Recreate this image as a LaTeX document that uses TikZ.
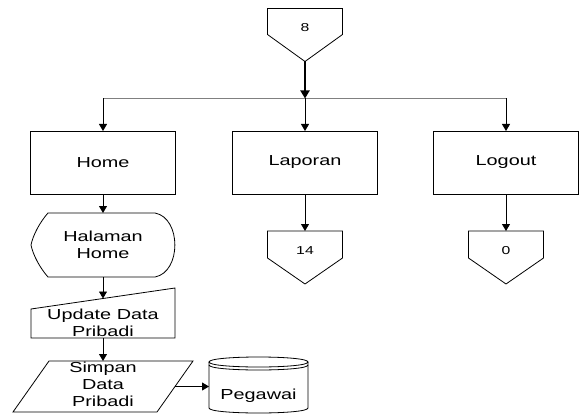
\documentclass[tikz,border=0pt]{standalone}
\usepackage{fontspec}
\setmainfont[FakeStretch=1.37]{Liberation Sans}
\usetikzlibrary{arrows.meta,calc}

% text block lowered or raised inside its node without changing the node size
\newcommand\shiftedtext[2]{\raisebox{#1}[\height][\depth]{\begin{tabular}{@{}c@{}}#2\end{tabular}}}

\tikzset{
  lbl/.style={font=\fontsize{14.5}{17}\selectfont},
  num/.style={font=\fontsize{11.5}{14}\selectfont},
  frame/.style={rectangle, draw=none, inner sep=0pt, outer sep=0pt},
  proc/.style={frame, draw=black, line width=0.8pt, minimum width=145pt, minimum height=63pt, lbl},
  offpage/.style={frame, minimum width=75pt, minimum height=53pt, num},
  outline/.style={draw=black, line width=0.8pt, line join=miter},
  flow/.style={draw=black, line width=0.9pt, -{Triangle[width=8pt,length=7pt]}},
  mainflow/.style={draw=black, line width=2.2pt, -{Triangle[width=9pt,length=8pt]}},
  busline/.style={draw=gray, line width=1.6pt},
}

\begin{document}
\begin{tikzpicture}[x=1pt,y=-1pt]
  \fill[white] (0,0) rectangle (585,414);
  \useasboundingbox (0,0) rectangle (585,414);

  % off-page connector at the top
  \node[offpage] (c8) at (305,35) {\shiftedtext{6pt}{8}};
  \begin{scope}[shift={(c8.north west)}]
    \draw[outline] (0,0) -- (75,0) -- (75,26) -- (37.5,53) -- (0,26) -- cycle;
  \end{scope}

  % menu processes
  \node[proc] (home)    at (103,162.5) {Home};
  \node[proc] (laporan) at (305,162.5) {Laporan};
  \node[proc] (logout)  at (506,162.5) {Logout};

  % off-page connectors below the menu
  \node[offpage] (c14) at (305,257.5) {\shiftedtext{6pt}{14}};
  \node[offpage] (c0)  at (506,257.5) {\shiftedtext{6pt}{0}};
  \foreach \c in {c14,c0}{
    \begin{scope}[shift={(\c.north west)}]
      \draw[outline] (0,0) -- (75,0) -- (75,27) -- (37.5,53) -- (0,27) -- cycle;
    \end{scope}
  }

  % display: Halaman Home
  \node[frame, lbl, minimum width=144pt, minimum height=64pt] (disp) at (103,245)
    {\shiftedtext{-1.5pt}{Halaman\\Home}};
  \begin{scope}[shift={(disp.north west)}]
    \draw[outline] (17,0) -- (124,0)
      .. controls (150.5,5) and (150.5,59) .. (124,64) -- (17,64)
      .. controls (9,55) and (2,42) .. (0,32)
      .. controls (2,22) and (9,9) .. (17,0) -- cycle;
  \end{scope}

  % manual input: Update Data Pribadi
  \node[frame, lbl, minimum width=144pt, minimum height=50pt] (upd) at (103,313)
    {\shiftedtext{-12pt}{Update Data\\Pribadi}};
  \begin{scope}[shift={(upd.north west)}]
    \draw[outline] (0,50) -- (0,21) -- (144,0) -- (144,50) -- cycle;
  \end{scope}
  \coordinate (upd-in) at ($(upd.north)+(0,10.5)$);

  % data: Simpan Data Pribadi
  \node[frame, lbl, minimum width=180pt, minimum height=51pt] (sim) at (103,386.5)
    {\shiftedtext{0pt}{Simpan\\Data\\Pribadi}};
  \begin{scope}[shift={(sim.north west)}]
    \draw[outline] (0,51) -- (36,0) -- (180,0) -- (144,51) -- cycle;
  \end{scope}
  \coordinate (sim-out) at ($(sim.east)+(-18,0)$);

  % stored data: Pegawai
  \node[frame, lbl, minimum width=99pt, minimum height=56pt] (peg) at (258.5,385)
    {\shiftedtext{-11.5pt}{Pegawai}};
  \begin{scope}[shift={(peg.north west)}]
    \draw[outline] (0,5) -- (0,51) .. controls (0,57.67) and (99,57.67) .. (99,51) -- (99,5);
    \draw[outline] (0,5) .. controls (0,-1.67) and (99,-1.67) .. (99,5)
      .. controls (99,11.67) and (0,11.67) .. (0,5) -- cycle;
    \draw[outline] (0,8) .. controls (0,14.67) and (99,14.67) .. (99,8);
  \end{scope}

  % connectors
  \coordinate (bus) at (305,98.5);
  \draw[busline] (home.north |- bus) -- (logout.north |- bus);
  \draw[mainflow] (c8.south) -- (bus);
  \draw[flow] (home.north |- bus) -- (home.north);
  \draw[flow] (bus) -- (laporan.north);
  \draw[flow] (logout.north |- bus) -- (logout.north);
  \draw[flow] (laporan.south) -- (c14.north);
  \draw[flow] (logout.south) -- (c0.north);
  \draw[flow] (home.south) -- (disp.north);
  \draw[flow] (disp.south) -- (upd-in);
  \draw[flow] (upd.south) -- (sim.north);
  \draw[flow] (sim-out) -- (sim-out -| peg.west);
\end{tikzpicture}
\end{document}
